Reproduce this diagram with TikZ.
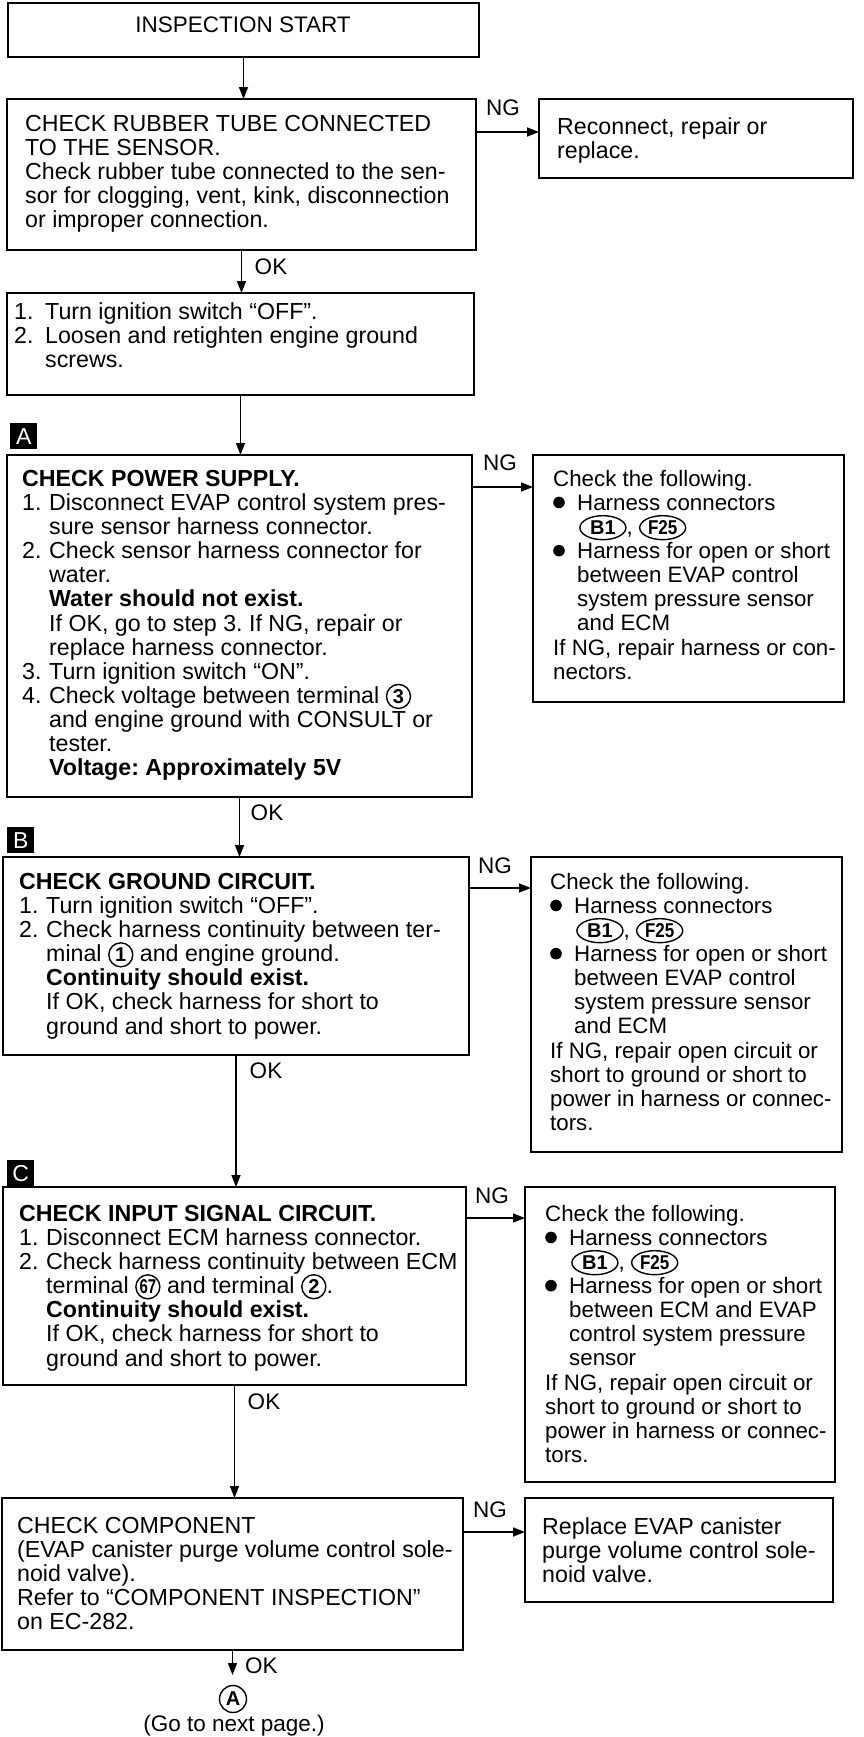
\documentclass[tikz,border=0pt]{standalone}
\usepackage{fontspec}
\setmainfont{Liberation Sans}
\usetikzlibrary{arrows.meta,shapes.geometric}
\newcommand\circLab[1]{\smash{\tikz[baseline=(cl.base)]\node[draw,line width=1.4pt,ellipse,inner sep=0pt,minimum width=46pt,minimum height=24pt,font=\bfseries\fontsize{20}{20}\selectfont](cl){#1};}}
\newcommand\circNum[1]{\smash{\tikz[baseline=(cn.base)]\node[draw,line width=1.4pt,circle,inner sep=0pt,minimum size=24pt,font=\bfseries\fontsize{20}{20}\selectfont](cn){#1};}}
\newcommand\numlab[1]{\makebox[27pt][l]{#1}}
\newcommand\indt{\hspace*{27pt}}
\newcommand\bul{\makebox[24pt][l]{\tikz[baseline=-8pt]\fill (0,0) circle[radius=5.8pt];}}
\newcommand\bind{\hspace*{24pt}}
\begin{document}
\frenchspacing
\begin{tikzpicture}[x=1pt,y=-1pt,
 box/.style={draw,line width=1.8pt,inner sep=0pt,outer sep=0pt,anchor=north west},
 txtL/.style={inner sep=0pt,align=left,anchor=north west,font=\fontsize{23.2}{24.1}\selectfont},
 txtR/.style={inner sep=0pt,align=left,anchor=north west,font=\fontsize{22.3}{24.1}\selectfont},
 lbl/.style={inner sep=0pt,font=\fontsize{22.5}{24}\selectfont},
 sq/.style={fill=black,text=white,inner sep=0pt,anchor=north west,minimum width=27pt,minimum height=26pt,font=\fontsize{23}{23}\selectfont},
 arr/.style={line width=1.5pt,-{Triangle[length=12pt,width=9pt]}}]
\useasboundingbox (0,0) rectangle (864,1737);

% start
\node[box,minimum width=471pt,minimum height=54pt] (start) at (8,3) {};
\node[lbl] (ts) at (243,25) {INSPECTION START};

% box 1
\node[box,minimum width=469pt,minimum height=151pt] (b1) at (7,99) {};
\node[txtL] (t1) at (25,115) {CHECK RUBBER TUBE CONNECTED\\TO THE SENSOR.\\Check rubber tube connected to the sen-\\sor for clogging, vent, kink, disconnection\\or improper connection.};
\node[box,minimum width=314pt,minimum height=79pt] (r1) at (539,99) {};
\node[txtL] (tr1) at (557,117) {Reconnect, repair or\\replace.};
\node[lbl] (ng1) at (503,108) {NG};
\node[lbl] (ok1) at (271,267) {OK};

% box 2
\node[box,minimum width=467pt,minimum height=102pt] (b2) at (7,293) {};
\node[txtL] (t2) at (14,302) {\makebox[31pt][l]{1.}Turn ignition switch “OFF”.\\\makebox[31pt][l]{2.}Loosen and retighten engine ground\\\hspace*{31pt}screws.};

% box A
\node[sq] (sqA) at (10,423) {A};
\node[box,minimum width=465pt,minimum height=342pt] (bA) at (7,455) {};
\node[txtL] (tA) at (22,470) {\textbf{CHECK POWER SUPPLY.}\\
\numlab{1.}Disconnect EVAP control system pres-\\
\indt sure sensor harness connector.\\
\numlab{2.}Check sensor harness connector for\\
\indt water.\\
\indt\textbf{Water should not exist.}\\
\indt If OK, go to step 3. If NG, repair or\\
\indt replace harness connector.\\
\numlab{3.}Turn ignition switch “ON”.\\
\numlab{4.}Check voltage between terminal \circNum{3}\\
\indt and engine ground with CONSULT or\\
\indt tester.\\
\indt\textbf{Voltage: Approximately 5V}};
\node[lbl] (ngA) at (500,463) {NG};
\node[box,minimum width=311pt,minimum height=247pt] (rA) at (533,455) {};
\node[txtR] (trA) at (553,470) {Check the following.\\
\bul Harness connectors\\
\hspace*{26pt}\circLab{B1}, \circLab{\scalebox{0.85}[1]{F25}}\\
\bul Harness for open or short\\
\bind between EVAP control\\
\bind system pressure sensor\\
\bind and ECM\\
If NG, repair harness or con-\\
nectors.};
\node[lbl] (okA) at (267,813) {OK};

% box B
\node[sq] (sqB) at (7,827) {B};
\node[box,minimum width=466pt,minimum height=198pt] (bB) at (3,857) {};
\node[txtL] (tB) at (19,873) {\textbf{CHECK GROUND CIRCUIT.}\\
\numlab{1.}Turn ignition switch “OFF”.\\
\numlab{2.}Check harness continuity between ter-\\
\indt minal \circNum{1} and engine ground.\\
\indt\textbf{Continuity should exist.}\\
\indt If OK, check harness for short to\\
\indt ground and short to power.};
\node[lbl] (ngB) at (495,866) {NG};
\node[box,minimum width=311pt,minimum height=295pt] (rB) at (531,857) {};
\node[txtR] (trB) at (550,873) {Check the following.\\
\bul Harness connectors\\
\hspace*{26pt}\circLab{B1}, \circLab{\scalebox{0.85}[1]{F25}}\\
\bul Harness for open or short\\
\bind between EVAP control\\
\bind system pressure sensor\\
\bind and ECM\\
If NG, repair open circuit or\\
short to ground or short to\\
power in harness or connec-\\
tors.};
\node[lbl] (okB) at (266,1071) {OK};

% box C
\node[sq] (sqC) at (7,1160) {C};
\node[box,minimum width=463pt,minimum height=198pt] (bC) at (3,1187) {};
\node[txtL] (tC) at (19,1205) {\textbf{CHECK INPUT SIGNAL CIRCUIT.}\\
\numlab{1.}Disconnect ECM harness connector.\\
\numlab{2.}Check harness continuity between ECM\\
\indt terminal \circNum{\scalebox{0.75}[1]{67}} and terminal \circNum{2}.\\
\indt\textbf{Continuity should exist.}\\
\indt If OK, check harness for short to\\
\indt ground and short to power.};
\node[lbl] (ngC) at (492,1196) {NG};
\node[box,minimum width=310pt,minimum height=295pt] (rC) at (525,1187) {};
\node[txtR] (trC) at (545,1205) {Check the following.\\
\bul Harness connectors\\
\hspace*{26pt}\circLab{B1}, \circLab{\scalebox{0.85}[1]{F25}}\\
\bul Harness for open or short\\
\bind between ECM and EVAP\\
\bind control system pressure\\
\bind sensor\\
If NG, repair open circuit or\\
short to ground or short to\\
power in harness or connec-\\
tors.};
\node[lbl] (okC) at (264,1402) {OK};

% box D
\node[box,minimum width=461pt,minimum height=152pt] (bD) at (2,1498) {};
\node[txtL] (tD) at (17,1517) {CHECK COMPONENT\\(EVAP canister purge volume control sole-\\noid valve).\\Refer to “COMPONENT INSPECTION”\\on EC-282.};
\node[lbl] (ngD) at (490,1510) {NG};
\node[box,minimum width=308pt,minimum height=104pt] (rD) at (525,1498) {};
\node[txtL] (trD) at (542,1517) {Replace EVAP canister\\purge volume control sole-\\noid valve.};
\node[lbl,anchor=west] (okD) at (245,1666) {OK};

\node[draw,circle,line width=1.4pt,minimum size=27pt,inner sep=0pt,font=\bfseries\fontsize{20}{20}\selectfont] (circA) at (233,1699) {A};
\node[lbl,anchor=base] (go) at (234,1731) {(Go to next page.)};

% vertical connectors
\coordinate (endD) at (233,1675);
\draw[arr] (start.south) -- (start.south |- b1.north);
\draw[arr] (b1.south) -- (b1.south |- b2.north);
\draw[arr] (b2.south) -- (b2.south |- bA.north);
\draw[arr] (bA.south) -- (bA.south |- bB.north);
\draw[arr] (bB.south) -- (bB.south |- bC.north);
\draw[arr] (bC.south) -- (bC.south |- bD.north);
\draw[arr] (bD.south) -- (bD.south |- endD);

% NG connectors
\coordinate (n1) at ([yshift=-33pt]b1.north east);
\coordinate (nA) at ([yshift=-32pt]bA.north east);
\coordinate (nB) at ([yshift=-31pt]bB.north east);
\coordinate (nC) at ([yshift=-31pt]bC.north east);
\coordinate (nD) at ([yshift=-34pt]bD.north east);
\draw[arr] (n1) -- (n1 -| r1.west);
\draw[arr] (nA) -- (nA -| rA.west);
\draw[arr] (nB) -- (nB -| rB.west);
\draw[arr] (nC) -- (nC -| rC.west);
\draw[arr] (nD) -- (nD -| rD.west);
\end{tikzpicture}
\end{document}
